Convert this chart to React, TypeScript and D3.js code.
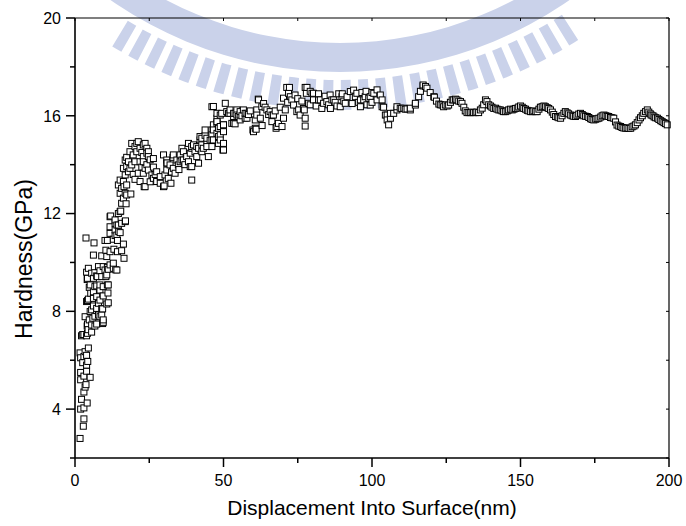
import React from 'react';
import * as d3 from 'd3';

const W = 686;
const H = 526;

// axis ticks
const xMajor = [0, 50, 100, 150, 200];
const xMinor = [25, 75, 125, 175];
const yMajor = [4, 8, 12, 16, 20];
const yMinor = [2, 6, 10, 14, 18];

// Displacement (nm), Hardness (GPa)
const rampUp: [number, number][] = [
  [1.7,2.8],[2.8,3.3],[3.0,3.6],[1.9,4.0],[3.0,4.05],[4.1,4.25],[2.2,4.4],[3.0,4.7],[3.4,4.9],[3.7,5.0],
  [1.9,5.2],[5.1,5.3],[3.0,5.35],[1.9,5.5],[3.9,5.55],[3.9,5.8],[2.6,5.9],[4.3,5.95],[1.9,6.1],[3.0,6.15],
  [3.9,6.2],[1.7,6.3],[3.4,6.35],[4.5,6.5],[2.2,7.0],[2.6,7.05],[3.0,7.05],[3.9,7.0],[4.2,7.1],[5.6,7.15],
  [4.4,7.25],[4.1,7.4],[4.2,7.48],[5.6,7.44],[6.7,7.4],[7.3,7.48],[9.3,7.5],[9.5,7.55],[4.8,7.65],[9.5,7.65],
  [3.4,7.78],[6.0,7.72],[6.7,7.8],[8.4,7.78],[7.9,7.85],[9.0,7.85],[5.1,7.99],[5.6,8.06],[7.3,8.03],[9.3,8.1],
  [7.3,8.12],[9.0,8.12],[6.2,8.22],[7.9,8.33],[10.7,8.3],[11.2,8.35],[3.9,8.4],[4.2,8.44],[8.4,8.46],[4.5,8.5],
  [6.2,8.53],[7.3,8.6],[9.5,8.63],[5.3,8.74],[11.1,8.75],[6.2,8.8],[8.4,8.87],[4.8,8.98],[6.7,9.01],[9.5,9.01],
  [7.3,9.04],[5.1,9.08],[8.4,9.08],[10.9,9.08],[11.2,9.08],[4.1,9.3],[6.2,9.35],[4.2,9.35],[7.5,9.42],[9.0,9.42],
  [10.4,9.42],[7.3,9.45],[10.7,9.49],[5.6,9.56],[6.7,9.58],[3.9,9.6],[8.4,9.66],[10.1,9.69],[11.2,9.72],[14.1,9.69],
  [13.7,9.7],[4.5,9.76],[12.9,9.76],[10.9,9.8],[7.9,9.83],[9.5,9.83],[11.8,9.9],[12.9,9.97],[16.5,10.17],[9.0,10.27],
  [10.7,10.24],[6.2,10.3],[11.8,10.44],[14.3,10.44],[15.7,10.48],[10.4,10.5],[13.1,10.54],[16.3,10.75],[6.4,10.8],
  [10.1,10.9],[10.9,10.9],[14.3,10.9],[12.9,10.95],[3.7,11.0],[13.5,11.1],[14.1,11.12],[11.8,11.19],[15.2,11.22],
  [14.7,11.26],[13.5,11.33],[11.8,11.46],[14.6,11.53],[14.1,11.53],[13.5,11.6],[15.7,11.6],[16.9,11.67],[17.0,11.7],
  [13.5,11.74],[11.8,11.87],[12.0,11.9],[14.6,12.0],[15.2,12.08],[15.4,12.1],[17.2,12.4],[15.7,12.42],[16.3,12.63],
  [17.4,12.76],[18.8,12.8],[15.2,12.83],[16.9,12.83],[15.7,13.03],[16.5,13.1],[14.6,13.17],[17.4,13.17],[16.3,13.31],
  [15.2,13.37],[16.9,13.58],[18.0,13.71],[16.3,13.85],[17.4,13.92],[18.0,14.12],[16.9,14.19],[17.4,14.3],[18.5,13.85],
];

const firstPlateau: [number, number][] = [
  [19.1,13.99],[20.2,14.12],[21.9,14.12],[23.0,14.33],[18.5,14.53],[19.6,14.4],[20.8,14.53],[21.9,14.67],[24.7,14.53],
  [24.2,14.67],[23.0,14.81],[21.3,14.94],[19.1,14.87],[20.2,14.74],[20.8,14.87],[23.0,14.12],[23.6,13.85],[23.0,13.65],
  [23.6,13.1],[24.7,13.78],[25.9,13.58],[26.4,13.44],[27.5,13.71],[28.7,13.51],[27.5,13.31],[28.7,13.24],[29.8,13.1],
  [19.6,13.6],[20.2,13.4],[21.3,13.65],[22.5,13.9],[21.9,13.31],[22.5,14.5],[24.2,14.0],[25.3,14.2],[25.3,13.3],
  [26.4,13.9],[27.0,13.6],[26.4,14.25],[23.3,13.1],[27.5,13.31],[30.0,13.13],[32.3,13.24],[24.2,14.47],[23.6,14.87],
  [24.7,14.33],[29.8,14.4],[30.9,14.19],[32.0,13.99],[30.9,13.78],[30.3,13.58],[31.4,13.44],[33.1,14.4],[34.3,14.19],
  [34.8,13.99],[33.1,13.85],[33.7,13.65],[35.4,14.4],[36.0,14.19],[36.5,14.53],[37.6,14.33],[38.2,14.12],[39.3,13.92],
  [39.3,13.37],[38.2,14.87],[39.3,14.67],[40.4,14.53],[41.0,14.33],[39.9,14.81],[41.6,14.67],[42.7,14.53],[42.1,15.01],
  [42.7,14.81],[44.4,14.87],[46.1,14.74],[44.4,15.08],[46.6,15.01],[48.9,15.22],[50.0,14.87],[50.0,14.6],[46.1,15.42],
  [47.8,15.28],[50.0,15.35],[47.8,15.69],[48.9,15.56],[50.0,15.63],[47.8,15.9],[48.3,15.15],[43.8,15.2],[36.0,14.67],
  [30.9,14.06],[33.0,14.3],[31.0,14.07],[39.3,14.74],[42.1,15.15],[43.8,15.42],[46.1,15.22],[46.6,15.63],[48.3,15.49],
  [44.4,14.74],[42.7,15.08],[41.0,14.74],[43.2,14.67],[44.9,14.33],[38.8,14.47],[36.5,14.19],[41.6,14.06],[35.4,14.12],
  [38.8,13.92],[49.8,14.6],[48.3,14.87],[48.9,15.01],[45.5,15.0],[37.0,14.0],[32.5,13.7],[35.0,13.8],
];

const secondPlateau: [number, number][] = [
  [46.6,16.38],[46.1,16.37],[48.9,16.03],[49.4,16.1],[50.6,16.51],[51.7,16.1],[54.5,16.24],[56.7,16.24],[57.9,15.9],
  [47.8,15.76],[50.0,15.63],[52.8,15.69],[55.6,15.83],[53.4,15.97],[55.6,16.03],[47.8,16.1],[46.6,15.42],[46.1,15.01],
  [53.4,15.69],[52.2,16.1],[54.5,16.03],[60.7,15.49],[60.1,15.35],[61.8,16.65],[62.9,16.37],[64.6,16.24],[66.3,16.03],
  [68.0,15.56],[61.2,16.24],[52.2,16.24],[53.9,16.1],[53.9,15.67],[57.3,15.9],[57.9,16.1],[55.0,15.97],[59.9,15.42],
  [61.0,15.45],[64.0,16.35],[65.7,16.17],[66.8,16.03],[61.2,16.03],[60.7,15.83],[66.3,15.76],[68.5,15.69],[69.7,15.56],
  [67.7,15.49],[70.2,15.9],[70.8,16.24],[72.2,17.16],[70.2,16.72],[72.5,16.78],[73.6,16.44],[75.3,16.24],[75.8,16.03],
  [71.9,16.92],[73.0,16.65],[78.1,17.16],[77.9,16.92],[79.8,16.92],[80.3,16.65],[77.5,15.58],[77.5,15.9],[77.2,16.24],
  [78.6,16.51],[82.0,16.65],[83.7,16.51],[85.9,16.85],[86.5,16.65],[88.2,16.4],[89.3,16.37],[91.0,16.51],[92.7,16.99],
  [91.6,16.78],[94.4,16.78],[96.1,16.37],[96.1,16.65],[97.7,16.78],[99.4,16.44],[98.9,16.72],[101.7,17.06],[100.6,16.92],
  [103.4,16.65],[103.9,16.35],[101.7,16.65],[51.1,16.17],[53.4,16.1],[55.6,16.17],[57.3,16.1],[61.7,16.68],[71.3,17.16],
  [74.7,16.17],[77.5,17.16],[80.3,16.92],[82.6,16.65],[84.8,16.58],[87.1,16.65],[89.9,16.78],[94.9,16.92],[97.2,16.65],
  [99.4,16.78],[81.2,16.4],[83.1,16.3],[85.4,16.45],[87.6,16.55],[90.5,16.6],[93.3,16.5],[95.5,16.55],[98.3,16.45],
  [100.0,16.55],[102.8,16.85],[88.8,16.9],[93.8,17.05],[96.6,16.95],[84.2,16.8],[79.2,16.45],[76.4,16.6],[75.0,16.7],
  [69.1,16.35],[67.4,16.2],[63.5,16.5],[59.0,16.2],[58.4,16.05],[56.2,16.0],[62.4,15.9],[63.0,15.6],[65.2,16.05],
  [71.6,16.55],[74.1,16.85],[76.9,16.3],[79.2,17.0],[82.0,16.9],[86.0,16.3],[90.0,16.9],[98.0,17.0],[100.0,16.95],
  [105.1,16.03],[106.2,15.9],[107.3,16.1],[108.4,16.24],[105.6,15.63],[105.1,15.83],[109.5,16.31],[111.2,16.27],
  [112.9,16.24],[114.6,16.44],[115.7,16.78],[117.2,17.22],[118.5,17.13],[121.0,16.76],[122.5,16.48],[104.5,16.03],
  [106.2,16.1],[108.4,16.37],[110.7,16.31],[112.9,16.31],[114.6,16.51],[117.2,17.26],[120.8,16.78],[119.6,16.95],
  [103.4,16.37],[110.0,16.3],[111.8,16.28],[116.3,17.0],[118.0,17.2],[121.7,16.6],[123.0,16.45],
];

const tail: [number, number][] = [
  [123.6,16.44],[124.1,16.37],[124.7,16.44],[125.3,16.40],[125.8,16.44],[126.4,16.55],[127.0,16.65],[127.5,16.65],
  [128.1,16.68],[128.6,16.65],[129.2,16.6],[129.8,16.58],[130.3,16.51],[130.9,16.35],[131.4,16.2],[132.0,16.13],
  [132.6,16.13],[133.1,16.13],[133.7,16.15],[134.2,16.13],[134.8,16.13],[135.3,16.15],[135.9,16.13],[136.5,16.24],
  [137.1,16.31],[137.6,16.45],[138.2,16.65],[138.7,16.58],[139.3,16.45],[139.9,16.40],[140.4,16.35],[141.0,16.3],
  [141.6,16.31],[142.1,16.27],[142.7,16.24],[143.2,16.24],[143.8,16.2],[144.3,16.17],[144.9,16.17],[145.5,16.2],
  [146.0,16.24],[146.6,16.27],[147.2,16.24],[147.8,16.27],[148.3,16.3],[148.9,16.31],[149.4,16.36],[150.0,16.40],
  [150.6,16.35],[151.1,16.3],[151.7,16.27],[152.3,16.22],[152.8,16.2],[153.4,16.17],[154.0,16.17],[154.5,16.2],
  [155.1,16.17],[155.6,16.17],[156.2,16.27],[156.7,16.35],[157.3,16.37],[157.9,16.4],[158.4,16.37],[159.0,16.33],
  [159.5,16.3],[160.1,16.24],[160.7,16.15],[161.2,16.05],[161.8,15.97],[162.4,15.95],[162.9,15.92],[163.5,15.90],
  [164.0,16.0],[164.6,16.1],[165.1,16.17],[165.7,16.12],[166.2,16.08],[166.8,16.03],[167.4,16.0],[167.9,15.98],
  [168.5,15.97],[169.0,16.02],[169.6,16.07],[170.2,16.10],[170.8,16.05],[171.3,16.0],[171.9,15.98],[172.5,15.97],
  [173.0,15.93],[173.6,15.88],[174.1,15.85],[174.7,15.83],[175.3,15.86],[175.8,15.88],[176.4,15.90],[177.0,15.95],
  [177.5,16.0],[178.1,16.03],[178.7,16.0],[179.2,15.98],[179.7,15.97],[180.3,15.93],[180.8,15.92],[181.4,15.90],
  [182.0,15.75],[182.5,15.62],[183.1,15.58],[183.7,15.56],[184.2,15.52],[184.8,15.5],[185.4,15.49],[185.9,15.5],
  [186.5,15.48],[187.1,15.49],[187.6,15.55],[188.2,15.58],[188.7,15.63],[189.3,15.72],[189.9,15.83],[190.4,15.92],
  [191.0,16.0],[191.5,16.10],[192.1,16.17],[192.7,16.24],[193.2,16.15],[193.7,16.08],[194.0,16.03],[194.6,16.0],
  [195.0,15.95],[195.5,15.92],[196.1,15.90],[196.6,15.85],[197.2,15.8],[197.7,15.76],[198.3,15.72],[198.8,15.68],
  [199.4,15.63],
];

const series = [...rampUp, ...firstPlateau, ...secondPlateau, ...tail].sort((a, b) => a[0] - b[0]);

const FONT = "'Liberation Sans', Arial, Helvetica, sans-serif";
const AXIS = '#000';
const WM = '#cad2ea';

export default function App() {
  const x = d3.scaleLinear().domain([0, 200]).range([75, 669]);
  const y = d3.scaleLinear().domain([2, 20]).range([458, 18]);
  const [x0, x1] = x.range();
  const [y0, y1] = y.range();

  // watermark (faint emblem behind the plot)
  const wcx = 340, wcy = -330;
  const ring = d3.arc()({ innerRadius: 373, outerRadius: 402, startAngle: 0, endAngle: Math.PI * 2 }) as string;
  const rayAngles = d3.range(Math.PI - 0.56, Math.PI + 0.561, 0.042);
  const rays = rayAngles.map(a => d3.arc()({ innerRadius: 410, outerRadius: 440, startAngle: a - 0.012, endAngle: a + 0.012 }) as string);

  const S = 6;
  return (
    <svg width={W} height={H} style={{ position: 'absolute', left: 0, top: 0, background: '#fff' }}>
      <rect width={W} height={H} fill="#fff" />
      <g transform={`translate(${wcx},${wcy})`} fill={WM}>
        <path d={ring} />
        {rays.map((d, i) => <path key={i} d={d} />)}
      </g>

      {/* markers */}
      <g>
        {series.map((p, i) => (
          <rect key={i} x={x(p[0]) - S / 2} y={y(p[1]) - S / 2} width={S} height={S}
            fill="#fff" stroke="#000" strokeWidth={1} />
        ))}
      </g>

      {/* frame */}
      <g stroke={AXIS} fill="none">
        <line x1={x0} x2={x1} y1={y0} y2={y0} strokeWidth={1.6} />
        <line x1={x0} x2={x0} y1={y0} y2={y1} strokeWidth={1.6} />
        <line x1={x0} x2={x1} y1={y1} y2={y1} strokeWidth={1.2} />
        <line x1={x1} x2={x1} y1={y0} y2={y1} strokeWidth={1.2} />
        {xMajor.map(v => <line key={'xM' + v} x1={x(v)} x2={x(v)} y1={y0} y2={y0 + 9} strokeWidth={1.5} />)}
        {xMinor.map(v => <line key={'xm' + v} x1={x(v)} x2={x(v)} y1={y0} y2={y0 + 5} strokeWidth={1.5} />)}
        {yMajor.map(v => <line key={'yM' + v} x1={x0 - 9} x2={x0} y1={y(v)} y2={y(v)} strokeWidth={1.5} />)}
        {yMinor.map(v => <line key={'ym' + v} x1={x0 - 5} x2={x0} y1={y(v)} y2={y(v)} strokeWidth={1.5} />)}
        {[...xMajor, ...xMinor].map(v => <line key={'xt' + v} x1={x(v)} x2={x(v)} y1={y1} y2={y1 + 3} strokeWidth={1} />)}
        {[...yMajor, ...yMinor].map(v => <line key={'yt' + v} x1={x1 - 3} x2={x1} y1={y(v)} y2={y(v)} strokeWidth={1} />)}
      </g>

      {/* tick labels */}
      <g fontFamily={FONT} fontSize={16} fill="#000">
        {xMajor.map(v => <text key={'xl' + v} x={x(v)} y={486} textAnchor="middle">{v}</text>)}
        {yMajor.map(v => <text key={'yl' + v} x={61} y={y(v) + 5.8} textAnchor="end">{v}</text>)}
      </g>

      {/* axis titles */}
      <text x={(x0 + x1) / 2} y={515} textAnchor="middle" fontFamily={FONT} fontSize={21} fill="#000">
        Displacement Into Surface(nm)
      </text>
      <text transform={`translate(32,${259}) rotate(-90)`} textAnchor="middle" fontFamily={FONT} fontSize={23} fill="#000">
        Hardness(GPa)
      </text>
    </svg>
  );
}
